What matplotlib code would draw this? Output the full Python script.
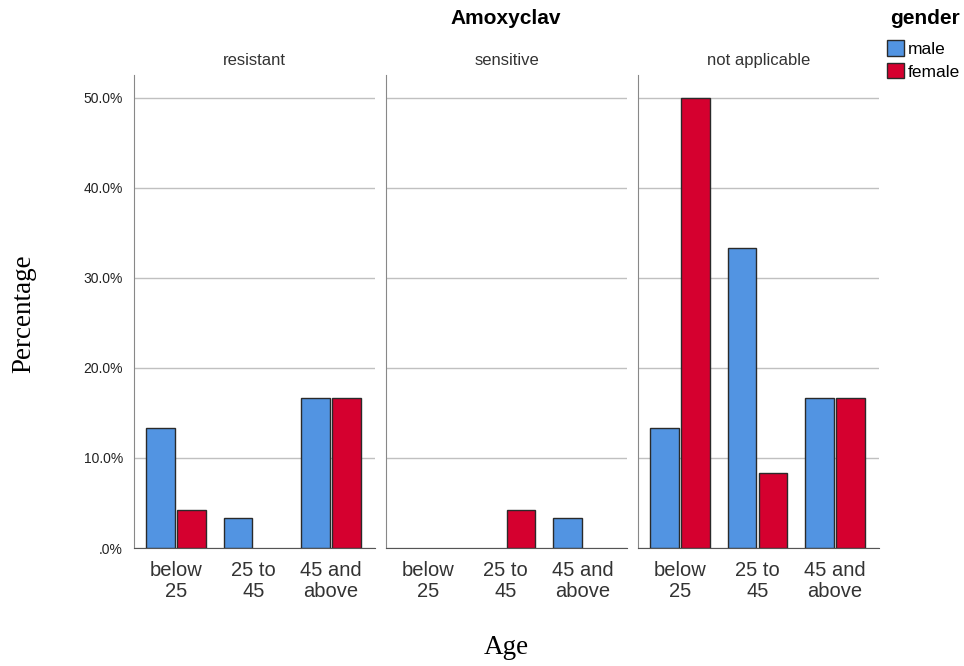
import numpy as np
import matplotlib.pyplot as plt
from matplotlib.patches import Patch

# Data
ages = ['below\n25', '25 to\n45', '45 and\nabove']
panels = ['resistant', 'sensitive', 'not applicable']
male = {
    'resistant': [13.3, 3.3, 16.7],
    'sensitive': [0.0, 0.0, 3.3],
    'not applicable': [13.3, 33.3, 16.7],
}
female = {
    'resistant': [4.2, 0.0, 16.7],
    'sensitive': [0.0, 4.2, 0.0],
    'not applicable': [50.0, 8.3, 16.7],
}
yticks = [0, 10, 20, 30, 40, 50]
ytick_labels = ['.0%', '10.0%', '20.0%', '30.0%', '40.0%', '50.0%']

blue = '#5294e2'
red = '#d5002f'
edge = '#2a2a2a'

plt.rcParams['font.family'] = ['Liberation Sans', 'DejaVu Sans']


def nonzero(vals):
    # empty cells are not drawn at all
    v = np.array(vals, dtype=float)
    return np.where(v > 0, v, np.nan)


fig = plt.figure(figsize=(9.64, 6.66), dpi=100)
W, H = 964, 666
x = np.arange(len(ages))
lefts = [134, 386, 638]
for i, (left, name) in enumerate(zip(lefts, panels)):
    ax = fig.add_axes([left / W, 1 - 548 / H, 241 / W, (548 - 75) / H])
    ax.bar(x - 0.2, nonzero(male[name]), width=0.37, color=blue, edgecolor=edge, linewidth=1, zorder=3)
    ax.bar(x + 0.2, nonzero(female[name]), width=0.37, color=red, edgecolor=edge, linewidth=1, zorder=3)
    ax.set_xlim(-0.54, 2.57)
    ax.set_ylim(0, 52.5)
    ax.set_yticks(yticks)
    ax.grid(axis='y', color='#c0c0c0', linewidth=1, zorder=0)
    ax.set_xticks(x)
    ax.set_xticklabels(ages, fontsize=14.5, color='#333333', linespacing=1.15)
    ax.tick_params(length=0, pad=9)
    if i == 0:
        ax.set_yticklabels(ytick_labels, fontsize=10, color='#222222')
        ax.tick_params(axis='y', pad=8)
    else:
        ax.set_yticklabels([])
    for s in ['top', 'right']:
        ax.spines[s].set_visible(False)
    ax.spines['left'].set_color('#888888')
    ax.spines['bottom'].set_color('#555555')
    ax.set_title(name, fontsize=12, color='#333333', pad=7)

fig.text(506 / W, 1 - 19 / H, 'Amoxyclav', ha='center', va='center', fontsize=15, fontweight='bold')
fig.text(24 / W, 1 - 314 / H, 'Percentage', ha='center', va='center', rotation=90,
         fontsize=19.5, family='Liberation Serif')
fig.text(506 / W, 1 - 648 / H, 'Age', ha='center', va='center', fontsize=19.5, family='Liberation Serif')

fig.text(925 / W, 1 - 19 / H, 'gender', ha='center', va='center', fontsize=15, fontweight='bold')
handles = [Patch(facecolor=blue, edgecolor=edge, label='male'),
           Patch(facecolor=red, edgecolor=edge, label='female')]
fig.legend(handles=handles, loc='upper left', bbox_to_anchor=(887 / W, 1 - 40 / H), frameon=False,
           fontsize=12.5, handlelength=1.0, handleheight=1.0, handletextpad=0.2,
           labelspacing=0.35, borderaxespad=0, borderpad=0)

fig.savefig('out.png', dpi=100)
